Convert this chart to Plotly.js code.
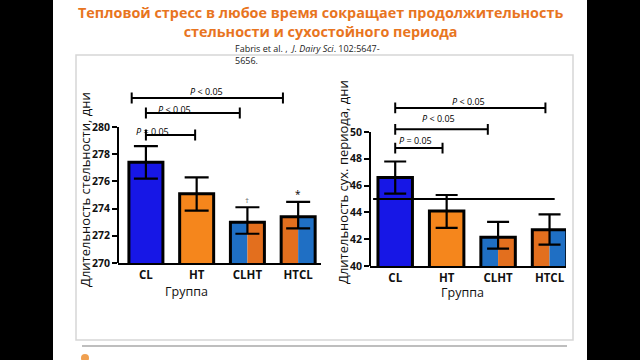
<!DOCTYPE html>
<html><head><meta charset="utf-8">
<script src="https://cdn.plot.ly/plotly-3.0.1.min.js"></script>
<style>html,body{margin:0;padding:0;background:#000;}#chart{width:640px;height:360px;}</style>
</head><body><div id="chart"></div>
<script>
// ---- data ----
const categories = ['CL', 'HT', 'CLHT', 'HTCL'];
const gestMean = [277.4, 275.1, 273.0, 273.4];
const gestErrPlus = [1.2, 1.2, 1.1, 1.1];
const gestErrMinus = [1.2, 1.25, 0.85, 0.85];
const dryMean = [46.6, 44.1, 42.15, 42.7];
const dryErrPlus = [1.2, 1.2, 1.15, 1.15];
const dryErrMinus = [1.2, 1.25, 0.85, 1.1];
const gestTicks = [270, 272, 274, 276, 278, 280];
const dryTicks = [40, 42, 44, 46, 48, 50];
// significance brackets (category index units, value units)
const gestBrFrom = [-0.28, 0, 0];
const gestBrTo = [2.7, 1.85, 0.97];
const gestBrY = [282.13, 281.03, 279.41];
const gestBrLabel = ['P < 0.05', 'P < 0.05', 'P = 0.05'];
const gestLabelX = [1.2, 0.57, 0.12];
const gestLabelY = [282.6, 281.3, 279.65];
const dryBrFrom = [0, 0, 0];
const dryBrTo = [2.92, 1.8, 0.92];
const dryBrY = [51.8, 50.2, 48.8];
const dryBrLabel = ['P < 0.05', 'P < 0.05', 'P = 0.05'];
const dryLabelX = [1.42, 0.85, 0.4];
const dryLabelY = [52.25, 51.0, 49.35];
const dryRefLine = 45.0;
const dryRefFrom = -0.43, dryRefTo = 3.1;
const titleLines = ['Тепловой стресс в любое время сокращает продолжительность', 'стельности и сухостойного периода'];
const yTitleLeft = 'Длительность стельности, дни';
const yTitleRight = 'Длительность сух. периода, дни';
const xTitle = 'Группа';

// ---- styles ----
const blue = '#1717e6', orange = '#f5861c';
const splitBlue = '#1f6fc4', splitOrange = '#e36f1e';
const idx = categories.map((c, i) => i);
const FF = 'Open Sans, DejaVu Sans, sans-serif';

function barTraces(mean, plus, minus, xa, ya, capW) {
  const splitIdx = [2, 3];
  const left = {
    type: 'bar', x: splitIdx, y: splitIdx.map(i => mean[i]), width: 0.335, offset: -0.335,
    marker: { color: [splitBlue, splitOrange], line: { width: 0 } }, xaxis: xa, yaxis: ya, hoverinfo: 'skip'
  };
  const right = {
    type: 'bar', x: splitIdx, y: splitIdx.map(i => mean[i]), width: 0.335, offset: 0,
    marker: { color: [splitOrange, splitBlue], line: { width: 0 } }, xaxis: xa, yaxis: ya, hoverinfo: 'skip'
  };
  const outline = {
    type: 'bar', x: idx, y: mean, width: 0.67,
    marker: { color: [blue, orange, 'rgba(0,0,0,0)', 'rgba(0,0,0,0)'], line: { color: '#000', width: 3 } },
    error_y: { type: 'data', symmetric: false, array: plus, arrayminus: minus, color: '#000', thickness: 2.2, width: capW },
    xaxis: xa, yaxis: ya, hoverinfo: 'skip'
  };
  return [left, right, outline];
}

const data = [
  ...barTraces(gestMean, gestErrPlus, gestErrMinus, 'x', 'y', 12),
  ...barTraces(dryMean, dryErrPlus, dryErrMinus, 'x2', 'y2', 11)
];

const shapes = [
  // slide background
  { type: 'rect', xref: 'paper', yref: 'paper', x0: 53/640, x1: 587/640, y0: 0, y1: 1, fillcolor: '#fff', line: { width: 0 }, layer: 'below' },
  // inner frame
  { type: 'rect', xref: 'paper', yref: 'paper', x0: 76/640, x1: 573/640, y0: 1 - 340/360, y1: 1 - 55/360, fillcolor: 'rgba(0,0,0,0)', line: { color: '#d6d6d6', width: 1.5 }, layer: 'below' },
  // footer line
  { type: 'line', xref: 'paper', yref: 'paper', x0: 82/640, x1: 567/640, y0: 1 - 346/360, y1: 1 - 346/360, line: { color: '#a8a8a8', width: 1.5 } },
  { type: 'circle', xref: 'paper', yref: 'paper', x0: 81/640, x1: 89/640, y0: 1 - 362/360, y1: 1 - 354/360, fillcolor: '#f0a050', line: { width: 0 } },
  // y axis lines
  { type: 'line', xref: 'x domain', yref: 'y', x0: 0, x1: 0, y0: gestTicks[0], y1: gestTicks[gestTicks.length - 1], line: { color: '#000', width: 2 } },
  { type: 'line', xref: 'x2 domain', yref: 'y2', x0: 0, x1: 0, y0: dryTicks[0], y1: dryTicks[dryTicks.length - 1], line: { color: '#000', width: 2 } },
  // reference line on right panel
  { type: 'line', xref: 'x2', yref: 'y2', x0: dryRefFrom, x1: dryRefTo, y0: dryRefLine, y1: dryRefLine, line: { color: '#000', width: 2 } }
];

function addBrackets(from, to, ys, xa, ya, d) {
  for (let i = 0; i < from.length; i++) {
    const base = { type: 'line', xref: xa, yref: ya, line: { color: '#000', width: 2 } };
    shapes.push(Object.assign({}, base, { x0: from[i], x1: to[i], y0: ys[i], y1: ys[i] }));
    shapes.push(Object.assign({}, base, { x0: from[i], x1: from[i], y0: ys[i] - d, y1: ys[i] + d }));
    shapes.push(Object.assign({}, base, { x0: to[i], x1: to[i], y0: ys[i] - d, y1: ys[i] + d }));
  }
}
addBrackets(gestBrFrom, gestBrTo, gestBrY, 'x', 'y', 0.4);
addBrackets(dryBrFrom, dryBrTo, dryBrY, 'x2', 'y2', 0.4);

function pLab(s) { const parts = s.split(' '); return '<i>P</i> ' + (parts[1] === '<' ? '&lt;' : '=') + ' ' + parts[2]; }

const annotations = [
  { text: titleLines.join('<br>'), xref: 'paper', yref: 'paper', x: 320/640, y: 1 - 1/360, xanchor: 'center', yanchor: 'top', showarrow: false,
    font: { family: FF, size: 14.4, color: '#e8751f', weight: 'bold' } },
  { text: 'Fabris et al. ,  <i>J. Dairy Sci</i>. 102:5647-<br>5656.', xref: 'paper', yref: 'paper', x: 233/640, y: 1 - 40/360, xanchor: 'left', yanchor: 'top', align: 'left', showarrow: false,
    font: { family: FF, size: 9, color: '#222' } },
  { text: yTitleLeft, textangle: -90, xref: 'paper', yref: 'paper', x: 85/640, y: 1 - 190/360, xanchor: 'center', yanchor: 'middle', showarrow: false,
    font: { family: FF, size: 13, color: '#111' } },
  { text: yTitleRight, textangle: -90, xref: 'paper', yref: 'paper', x: 343/640, y: 1 - 182/360, xanchor: 'center', yanchor: 'middle', showarrow: false,
    font: { family: FF, size: 13, color: '#111' } },
  { text: xTitle, xref: 'paper', yref: 'paper', x: 186/640, y: 1 - 291/360, xanchor: 'center', yanchor: 'middle', showarrow: false,
    font: { family: FF, size: 12.5, color: '#111' } },
  { text: xTitle, xref: 'paper', yref: 'paper', x: 462/640, y: 1 - 292/360, xanchor: 'center', yanchor: 'middle', showarrow: false,
    font: { family: FF, size: 12.5, color: '#111' } },
  { text: '†', xref: 'x', yref: 'y', x: 2, y: gestMean[2] + gestErrPlus[2], yshift: 8, showarrow: false, font: { family: FF, size: 8, color: '#666' } },
  { text: '*', xref: 'x', yref: 'y', x: 3, y: gestMean[3] + gestErrPlus[3], yshift: 8, showarrow: false, font: { family: FF, size: 10, color: '#000' } }
];
for (let i = 0; i < gestBrLabel.length; i++) {
  annotations.push({ text: pLab(gestBrLabel[i]), xref: 'x', yref: 'y', x: gestLabelX[i], y: gestLabelY[i], showarrow: false,
    font: { family: FF, size: 9, color: '#000' } });
}
for (let i = 0; i < dryBrLabel.length; i++) {
  annotations.push({ text: pLab(dryBrLabel[i]), xref: 'x2', yref: 'y2', x: dryLabelX[i], y: dryLabelY[i], showarrow: false,
    font: { family: FF, size: 9, color: '#000' } });
}

const xCommon = {
  tickvals: idx, ticktext: categories, showgrid: false, zeroline: false, showline: true, linecolor: '#000', linewidth: 2,
  ticks: '', tickfont: { family: FF, size: 11.5, color: '#111', weight: 'bold' }, fixedrange: true
};
const yCommon = {
  showgrid: false, zeroline: false, showline: false, ticks: 'outside', ticklen: 5, tickwidth: 2, tickcolor: '#000',
  tickfont: { family: FF, size: 10.5, color: '#111', weight: 'bold' }, fixedrange: true
};

const layout = {
  width: 640, height: 360, margin: { l: 0, r: 0, t: 0, b: 0 },
  paper_bgcolor: '#000', plot_bgcolor: 'rgba(0,0,0,0)', showlegend: false, barmode: 'overlay',
  xaxis: Object.assign({}, xCommon, { domain: [118/640, 321/640], range: [-0.55, 3.45], anchor: 'y' }),
  yaxis: Object.assign({}, yCommon, { domain: [97/360, 273.8/360], range: [270, 283], tickvals: gestTicks, anchor: 'x' }),
  xaxis2: Object.assign({}, xCommon, { domain: [370/640, 566/640], range: [-0.49, 3.32], anchor: 'y2' }),
  yaxis2: Object.assign({}, yCommon, { domain: [94/360, 268.2/360], range: [40, 53], tickvals: dryTicks, anchor: 'x2' }),
  shapes: shapes, annotations: annotations
};

Plotly.newPlot('chart', data, layout, { displayModeBar: false, staticPlot: true });
</script></body></html>
